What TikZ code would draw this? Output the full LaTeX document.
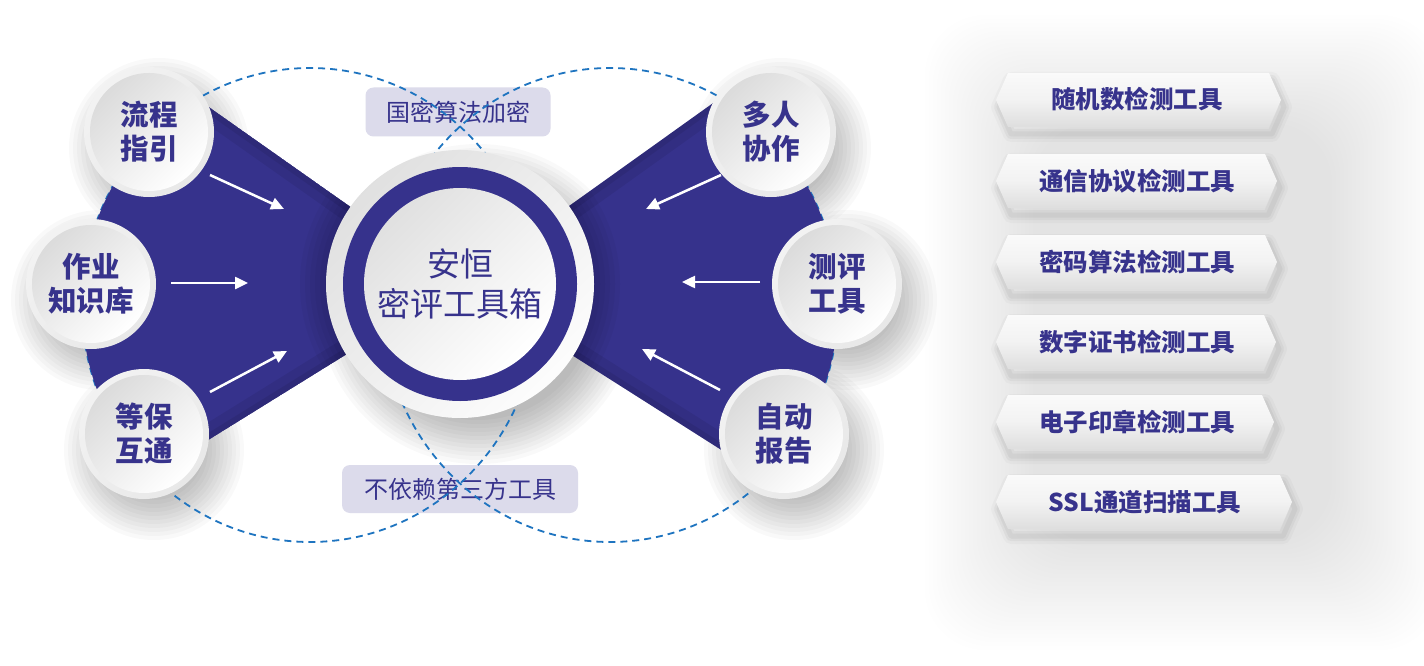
\documentclass[tikz,border=0pt]{standalone}
\usepackage{fontspec}
\setmainfont{Noto Sans CJK SC}
\usetikzlibrary{arrows.meta}
\definecolor{navy}{RGB}{54,50,140}
\definecolor{txt}{RGB}{55,51,140}
\definecolor{boxc}{RGB}{220,219,235}
\definecolor{dashc}{RGB}{30,116,192}
\newcommand\softshadow[4]{%
  \foreach \i in {0,...,11}{\fill[black,opacity=#4] (#1,#2) circle ({#3+30-4*\i});}}
\newcommand\bubble[2]{%
  \shade[top color=white!95!black,bottom color=white!91!black,shading angle=45] (#1,#2) circle (65);
  \shade[top color=white!86!black,bottom color=white,shading angle=45] (#1,#2) circle (59);}
\newcommand\banner[3]{% yc xl xr
  \foreach \w/\o in {16/0.025,10/0.035,5/0.04}{
    \draw[black,opacity=\o,line width=\w pt,line join=round]
      ({#2+12+3},{#1-27+7}) -- ({#3-12+3},{#1-27+7}) -- ({#3+3},{#1+7}) -- ({#3-12+3},{#1+27+7}) -- ({#2+12+3},{#1+27+7}) -- ({#2+3},{#1+7}) -- cycle;}
  \shade[top color=white!98!black,bottom color=white!87!black,middle color=white!95!black]
      ({#2+12},{#1-27}) -- ({#3-12},{#1-27}) -- (#3,#1) -- ({#3-12},{#1+27}) -- ({#2+12},{#1+27}) -- (#2,#1) -- cycle;}
\tikzset{
  circlbl/.style={circle,minimum size=130pt,align=center,text=txt,font=\fontsize{28.5}{34}\selectfont\bfseries,inner sep=0pt},
  tagbox/.style={fill=boxc,rounded corners=8pt,text=txt,font=\fontsize{24}{28}\selectfont,inner sep=0pt},
  bantxt/.style={text=txt,font=\fontsize{24.5}{28}\selectfont\bfseries,inner sep=0pt},
  arr/.style={white,line width=2.5pt,-{Triangle[length=13pt,width=12pt]}},
  dashring/.style={dashc,line width=1.8pt,dash pattern=on 7pt off 5pt},
}
\begin{document}
\begin{tikzpicture}[x=1pt,y=-1pt]
\useasboundingbox (0,0) rectangle (1424,666);
\fill[white] (0,0) rectangle (1424,666);
% haze behind banner list
\foreach \i in {0,...,27}{
  \fill[black,opacity=0.0045,rounded corners=60pt] ({925+4*\i},{15+4*\i}) rectangle ({1440-4*\i},{650-4*\i});}
% soft shadows
\softshadow{478}{304}{130}{0.022}
\foreach \cx/\cy in {149/132,91/284,144/434,771/132,837/284,784/434}{
  \softshadow{\cx+10}{\cy+16}{60}{0.022}}
% tag boxes
\node[tagbox,minimum width=185pt,minimum height=49pt] (t1) at (458,112) {国密算法加密};
\node[tagbox,minimum width=236pt,minimum height=48pt] (t2) at (460,489) {不依赖第三方工具};
% dashed rings
\draw[dashring] (310,305) ellipse [x radius=228, y radius=237];
\draw[dashring] (610,305) ellipse [x radius=228, y radius=237];
% left wedge
\begin{scope}
  \clip (310,305) ellipse [x radius=228, y radius=237];
  \clip (460,284) -- (60,2) -- (60,532) -- cycle;
  \fill[navy] (460,284) -- (60,2) -- (60,532) -- cycle;
  \draw[black,opacity=0.07,line width=30pt] (60,2) -- (460,284) -- (60,532);
  \draw[black,opacity=0.07,line width=12pt] (60,2) -- (460,284) -- (60,532);
  \foreach \i in {0,...,5}{\fill[black,opacity=0.03] (460,284) circle ({160-5*\i});}
\end{scope}
% right wedge
\begin{scope}
  \clip (610,305) ellipse [x radius=228, y radius=237];
  \clip (460,284) -- (860,-2) -- (860,538) -- cycle;
  \fill[navy] (460,284) -- (860,-2) -- (860,538) -- cycle;
  \draw[black,opacity=0.07,line width=30pt] (860,-2) -- (460,284) -- (860,538);
  \draw[black,opacity=0.07,line width=12pt] (860,-2) -- (460,284) -- (860,538);
  \foreach \i in {0,...,5}{\fill[black,opacity=0.03] (460,284) circle ({160-5*\i});}
\end{scope}
% central hub
\shade[top color=white!88!black,bottom color=white!99!black,shading angle=45] (460,284) circle (134);
\fill[navy] (460,284) circle (117);
\shade[top color=white!88!black,bottom color=white,shading angle=45] (460,284) circle (96);
\node[text=txt,align=center,font=\fontsize{33}{40}\selectfont,inner sep=0pt] (hub) at (460,284) {安恒\\密评工具箱};
% bubbles
\bubble{149}{132}\bubble{91}{284}\bubble{144}{434}
\bubble{771}{132}\bubble{837}{284}\bubble{784}{434}
\node[circlbl] (n1) at (149,132) {流程\\指引};
\node[circlbl] (n2) at (91,284) {作业\\知识库};
\node[circlbl] (n3) at (144,434) {等保\\互通};
\node[circlbl] (n4) at (771,132) {多人\\协作};
\node[circlbl] (n5) at (837,284) {测评\\工具};
\node[circlbl] (n6) at (784,434) {自动\\报告};
% arrows
\coordinate (a1s) at (210,175); \coordinate (a1e) at (284,209);
\coordinate (a2s) at (171,283); \coordinate (a2e) at (248,283);
\coordinate (a3s) at (210,392); \coordinate (a3e) at (287,351);
\coordinate (a4s) at (721,175); \coordinate (a4e) at (646,209);
\coordinate (a5s) at (760,282); \coordinate (a5e) at (682,282);
\coordinate (a6s) at (720,390); \coordinate (a6e) at (642,349);
\foreach \s/\e in {a1s/a1e,a2s/a2e,a3s/a3e,a4s/a4e,a5s/a5e,a6s/a6e}{\draw[arr] (\s) -- (\e);}
% banners
\banner{100}{996}{1281}
\banner{181}{996}{1277}
\banner{262}{996}{1277}
\banner{342}{996}{1276}
\banner{422}{996}{1274}
\banner{502}{996}{1292}
\node[bantxt] (b1) at (1137,99) {随机数检测工具};
\node[bantxt] (b2) at (1137,181) {通信协议检测工具};
\node[bantxt] (b3) at (1137,262) {密码算法检测工具};
\node[bantxt] (b4) at (1137,342) {数字证书检测工具};
\node[bantxt] (b5) at (1137,422) {电子印章检测工具};
\node[bantxt] (b6) at (1145,502) {SSL通道扫描工具};
\end{tikzpicture}
\end{document}
